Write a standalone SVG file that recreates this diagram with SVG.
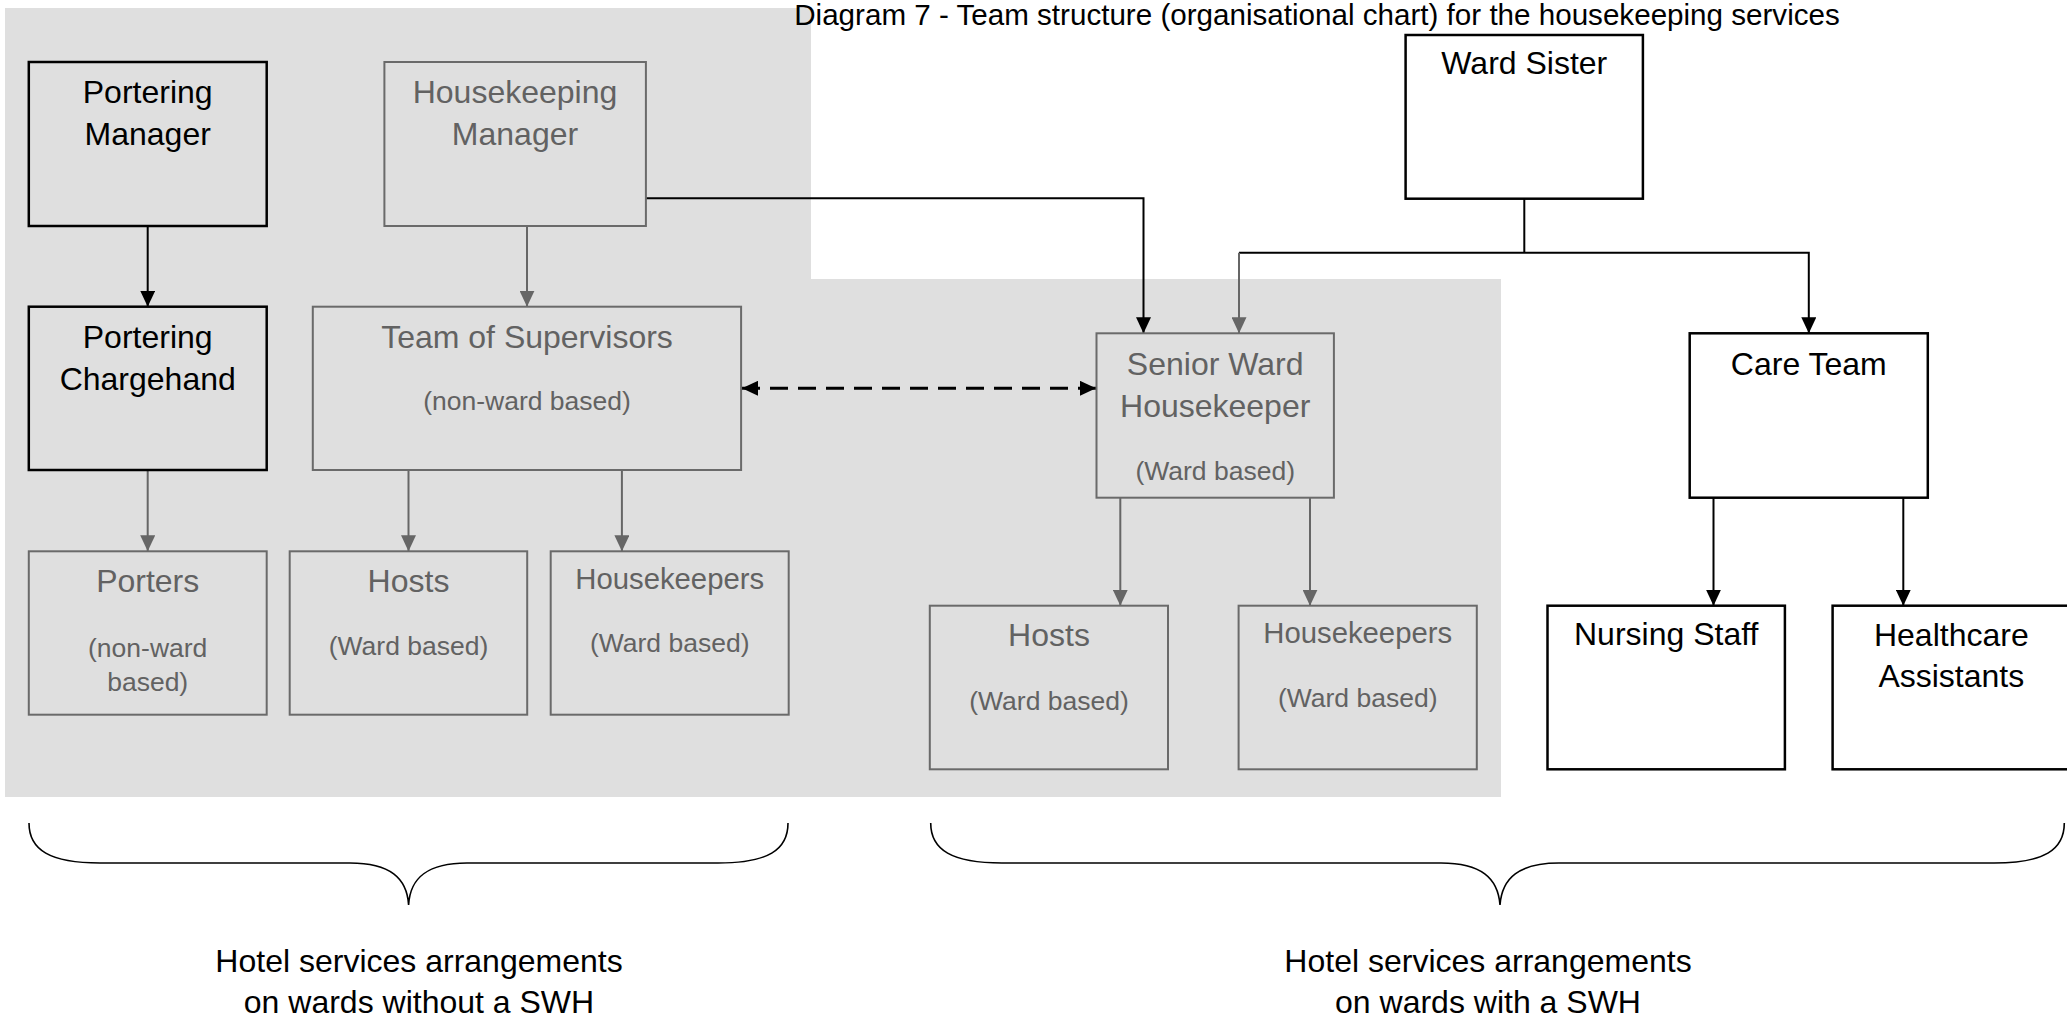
<svg xmlns="http://www.w3.org/2000/svg" width="2067" height="1017" viewBox="0 0 2067 1017">
  <defs>
    <style>
      text { font-family: "Liberation Sans", Arial, sans-serif; text-anchor: middle; }
      .t { font-size: 32px; }
      .tm { font-size: 29.3px; }
      .ts { font-size: 26.5px; }
      .dk { fill: #000; }
      .gr { fill: #626262; }
      .boxk { fill: none; stroke: #000; stroke-width: 2.5; }
      .boxw { fill: #fff; stroke: #000; stroke-width: 2.5; }
      .boxg { fill: none; stroke: #6a6a6a; stroke-width: 2; }
      .lk { fill: none; stroke: #000; stroke-width: 2; }
      .lg { fill: none; stroke: #666; stroke-width: 2; }
      .dash { fill: none; stroke: #000; stroke-width: 3; stroke-dasharray: 18 10; }
      .brace { fill: none; stroke: #000; stroke-width: 1.6; }
    </style>
    <marker id="ak" markerUnits="userSpaceOnUse" markerWidth="16" markerHeight="15" viewBox="0 0 16 15" refX="16" refY="7.5" orient="auto-start-reverse">
      <path d="M0,0 L16,7.5 L0,15 z" fill="#000"/>
    </marker>
    <marker id="ag" markerUnits="userSpaceOnUse" markerWidth="16" markerHeight="15" viewBox="0 0 16 15" refX="16" refY="7.5" orient="auto">
      <path d="M0,0 L16,7.5 L0,15 z" fill="#666"/>
    </marker>
  </defs>

  <rect width="2067" height="1017" fill="#fff"/>
  <!-- shaded hotel-services area -->
  <path d="M5,8 H811 V279 H1501 V797 H5 Z" fill="#dfdfdf"/>

  <text class="dk" x="1317" y="25" style="font-size:29.6px">Diagram 7 - Team structure (organisational chart) for the housekeeping services</text>

  <!-- connectors -->
  <g id="connectors">
    <path class="lk" d="M147.7,226 V306.7" marker-end="url(#ak)"/>
    <path class="lg" d="M527,226 V306.7" marker-end="url(#ag)"/>
    <path class="lg" d="M147.7,470 V551.3" marker-end="url(#ag)"/>
    <path class="lg" d="M408.5,470 V551.3" marker-end="url(#ag)"/>
    <path class="lg" d="M621.9,470 V551.3" marker-end="url(#ag)"/>
    <path class="lk" d="M646,198.3 H1143.5 V333.3" marker-end="url(#ak)"/>
    <path class="lk" d="M1524.3,198.7 V252.7"/>
    <path class="lk" d="M1239,252.7 H1808.8 V333.3" marker-end="url(#ak)"/>
    <path class="lg" d="M1239,252.7 V333.3" marker-end="url(#ag)"/>
    <path class="dash" d="M742,388.3 H1096" marker-start="url(#ak)" marker-end="url(#ak)"/>
    <path class="lg" d="M1120.3,497.7 V605.7" marker-end="url(#ag)"/>
    <path class="lg" d="M1310,497.7 V605.7" marker-end="url(#ag)"/>
    <path class="lk" d="M1713.5,497.7 V605.7" marker-end="url(#ak)"/>
    <path class="lk" d="M1903.3,497.7 V605.7" marker-end="url(#ak)"/>
  </g>

  <g id="portering-manager">
    <rect class="boxk" x="28.8" y="62" width="237.9" height="164"/>
    <text class="t dk" x="147.7" y="102.5">Portering</text>
    <text class="t dk" x="147.7" y="144.5">Manager</text>
  </g>
  <g id="housekeeping-manager">
    <rect class="boxg" x="384.4" y="62" width="261.5" height="164"/>
    <text class="t gr" x="515" y="102.5">Housekeeping</text>
    <text class="t gr" x="515" y="144.5">Manager</text>
  </g>
  <g id="portering-chargehand">
    <rect class="boxk" x="28.8" y="306.7" width="237.9" height="163.3"/>
    <text class="t dk" x="147.7" y="347.5">Portering</text>
    <text class="t dk" x="147.7" y="389.5">Chargehand</text>
  </g>
  <g id="team-of-supervisors">
    <rect class="boxg" x="312.8" y="306.7" width="428.3" height="163.3"/>
    <text class="t gr" x="527" y="347.5">Team of Supervisors</text>
    <text class="ts gr" x="527" y="410">(non-ward based)</text>
  </g>
  <g id="porters">
    <rect class="boxg" x="28.8" y="551.3" width="237.9" height="163.4"/>
    <text class="t gr" x="147.7" y="591.7">Porters</text>
    <text class="ts gr" x="147.7" y="656.7">(non-ward</text>
    <text class="ts gr" x="147.7" y="690.7">based)</text>
  </g>
  <g id="hosts-nonswh">
    <rect class="boxg" x="289.7" y="551.3" width="237.5" height="163.4"/>
    <text class="t gr" x="408.5" y="591.7">Hosts</text>
    <text class="ts gr" x="408.5" y="655">(Ward based)</text>
  </g>
  <g id="housekeepers-nonswh">
    <rect class="boxg" x="550.7" y="551.3" width="238" height="163.4"/>
    <text class="tm gr" x="669.7" y="589.3">Housekeepers</text>
    <text class="ts gr" x="669.7" y="651.7">(Ward based)</text>
  </g>
  <g id="senior-ward-housekeeper">
    <rect class="boxg" x="1096.5" y="333.3" width="237.4" height="164.4"/>
    <text class="t gr" x="1215.2" y="375">Senior Ward</text>
    <text class="t gr" x="1215.2" y="416.7">Housekeeper</text>
    <text class="ts gr" x="1215.2" y="480">(Ward based)</text>
  </g>
  <g id="hosts-swh">
    <rect class="boxg" x="929.8" y="605.7" width="238.2" height="163.6"/>
    <text class="t gr" x="1049" y="645.7">Hosts</text>
    <text class="ts gr" x="1049" y="710">(Ward based)</text>
  </g>
  <g id="housekeepers-swh">
    <rect class="boxg" x="1238.6" y="605.7" width="238.2" height="163.6"/>
    <text class="tm gr" x="1357.7" y="643.3">Housekeepers</text>
    <text class="ts gr" x="1357.7" y="706.7">(Ward based)</text>
  </g>
  <g id="ward-sister">
    <rect class="boxw" x="1405.6" y="35" width="237.3" height="163.7"/>
    <text class="t dk" x="1524.3" y="74">Ward Sister</text>
  </g>
  <g id="care-team">
    <rect class="boxw" x="1689.7" y="333.3" width="238.1" height="164.4"/>
    <text class="t dk" x="1808.8" y="375">Care Team</text>
  </g>
  <g id="nursing-staff">
    <rect class="boxw" x="1547.5" y="605.7" width="237.4" height="163.6"/>
    <text class="t dk" x="1666.2" y="645">Nursing Staff</text>
  </g>
  <g id="healthcare-assistants">
    <rect class="boxw" x="1832.6" y="605.7" width="237.4" height="163.6"/>
    <text class="t dk" x="1951.3" y="645.7">Healthcare</text>
    <text class="t dk" x="1951.3" y="687.3">Assistants</text>
  </g>

  <!-- grouping braces and captions -->
  <g id="brace-without-swh">
    <path class="brace" d="M29,823 C29,850 50,863 100,863 L350,863 C390,863 407,878 408.6,905 C410,878 427,863 467,863 L718,863 C768,863 788,850 788,823"/>
    <text class="t dk" x="419" y="971.5">Hotel services arrangements</text>
    <text class="t dk" x="419" y="1013">on wards without a SWH</text>
  </g>
  <g id="brace-with-swh">
    <path class="brace" d="M930.7,823 C930.7,850 952,863 1002,863 L1441,863 C1481,863 1498,878 1500,905 C1502,878 1519,863 1559,863 L1994,863 C2044,863 2064.3,850 2064.3,823"/>
    <text class="t dk" x="1488" y="971.5">Hotel services arrangements</text>
    <text class="t dk" x="1488" y="1013">on wards with a SWH</text>
  </g>
</svg>
